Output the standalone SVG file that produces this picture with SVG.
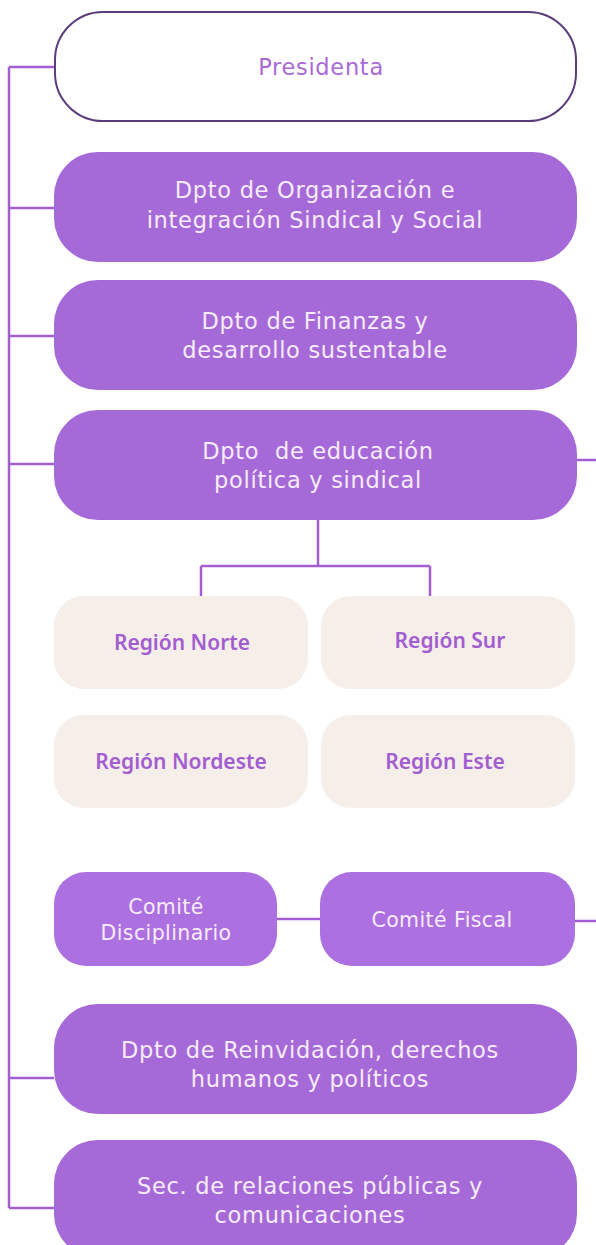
<svg xmlns="http://www.w3.org/2000/svg" width="596" height="1245" viewBox="0 0 596 1245">
<style>
.main{fill:#a66ad8}
.com{fill:#ad70e0}
.reg{fill:#f6eee9}
.wt{fill:#f6ecfa;font-family:"DejaVu Sans","Open Sans",sans-serif;font-size:22.5px;letter-spacing:0.7px;text-anchor:middle}
.ct{fill:#f6ecfa;font-family:"DejaVu Sans","Open Sans",sans-serif;font-size:20.5px;letter-spacing:0.4px;text-anchor:middle}
.rt{fill:#a25ed0;font-family:"Noto Sans","Open Sans",sans-serif;font-size:21px;font-weight:600;text-anchor:middle}
.ln{stroke:#a35fd2;stroke-width:2.5;fill:none}
</style>
<rect width="596" height="1245" fill="#ffffff"/>
<g id="connectors">
<path class="ln" d="M9,67 V1208 M9,67 H54 M9,208 H54 M9,336 H54 M9,464 H54 M9,1078 H54 M9,1208 H54"/>
<path class="ln" d="M577,460 H596"/>
<path class="ln" d="M318,519 V566 M201,566 H430 M201,566 V596 M430,566 V596"/>
<path class="ln" d="M277,919 H320" stroke="#8c6aa8"/>
<path class="ln" d="M575,921 H596"/>
</g>
<g id="presidenta">
<rect x="55" y="12" width="521" height="109" rx="48" fill="#ffffff" stroke="#5b3d7c" stroke-width="2"/>
<text x="321" y="75" font-family="DejaVu Sans,Open Sans,sans-serif" font-size="22.5" letter-spacing="0.7" fill="#a96ad6" text-anchor="middle">Presidenta</text>
</g>
<g id="organizacion">
<rect class="main" x="54" y="152" width="523" height="110" rx="44"/>
<text class="wt" x="315" y="198">Dpto de Organización e</text>
<text class="wt" x="315" y="228">integración Sindical y Social</text>
</g>
<g id="finanzas">
<rect class="main" x="54" y="280" width="523" height="110" rx="44"/>
<text class="wt" x="315" y="329">Dpto de Finanzas y</text>
<text class="wt" x="315" y="358">desarrollo sustentable</text>
</g>
<g id="educacion">
<rect class="main" x="54" y="410" width="523" height="110" rx="44"/>
<text class="wt" x="318" y="459" xml:space="preserve">Dpto  de educación</text>
<text class="wt" x="318" y="488">política y sindical</text>
</g>
<g id="norte">
<rect class="reg" x="54" y="596" width="254" height="93" rx="30"/>
<text class="rt" x="182" y="650">Región Norte</text>
</g>
<g id="sur">
<rect class="reg" x="321" y="596" width="254" height="93" rx="30"/>
<text class="rt" x="450" y="648">Región Sur</text>
</g>
<g id="nordeste">
<rect class="reg" x="54" y="715" width="254" height="93" rx="30"/>
<text class="rt" x="181" y="769">Región Nordeste</text>
</g>
<g id="este">
<rect class="reg" x="321" y="715" width="254" height="93" rx="30"/>
<text class="rt" x="445" y="769">Región Este</text>
</g>
<g id="disciplinario">
<rect class="com" x="54" y="872" width="223" height="94" rx="32"/>
<text class="ct" x="166" y="914">Comité</text>
<text class="ct" x="166" y="940">Disciplinario</text>
</g>
<g id="fiscal">
<rect class="com" x="320" y="872" width="255" height="94" rx="32"/>
<text class="ct" x="442" y="927">Comité Fiscal</text>
</g>
<g id="reinvidacion">
<rect class="main" x="54" y="1004" width="523" height="110" rx="44"/>
<text class="wt" x="310" y="1058">Dpto de Reinvidación, derechos</text>
<text class="wt" x="310" y="1087">humanos y políticos</text>
</g>
<g id="relaciones">
<rect class="main" x="54" y="1140" width="523" height="118" rx="44"/>
<text class="wt" x="310" y="1194">Sec. de relaciones públicas y</text>
<text class="wt" x="310" y="1223">comunicaciones</text>
</g>
</svg>
